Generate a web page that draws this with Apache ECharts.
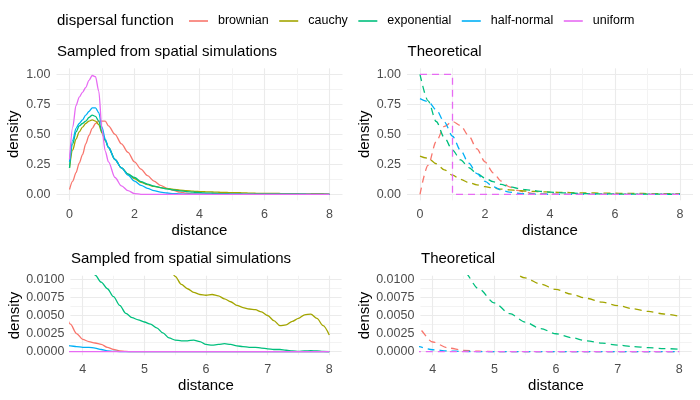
<!DOCTYPE html>
<html><head><meta charset="utf-8">
<script src="https://cdn.jsdelivr.net/npm/echarts@6/dist/echarts.min.js"></script>
<style>html,body{margin:0;padding:0;background:#fff}#c{width:700px;height:400px}</style>
</head><body><div id="c"></div>
<script>
// ---------- data ----------
const seriesNames = ['brownian', 'cauchy', 'exponential', 'half-normal', 'uniform'];
const seriesColors = ['#F8766D', '#A3A500', '#00BF7D', '#00B0F6', '#E76BF3'];
const panelTitles = ['Sampled from spatial simulations', 'Theoretical', 'Sampled from spatial simulations', 'Theoretical'];
const legendTitle = 'dispersal function';

// sampled (kernel density of simulated distances)
const sampX = [0,0.1,0.2,0.3,0.4,0.5,0.6,0.7,0.8,0.9,1.0,1.1,1.2,
  1.4,1.6,1.8,2.0,2.2,2.4,2.6,2.8,3.0,3.2,3.4,3.6,
  3.8,3.9,4.0,4.1,4.2,4.3,4.4,4.5,4.6,4.7,4.8,4.9,5.0,5.1,5.2,5.3,5.4,5.5,5.6,5.7,
  5.8,5.9,6.0,6.1,6.2,6.3,6.4,6.5,6.6,6.7,6.8,6.9,7.0,7.1,7.2,7.3,7.4,7.5,7.6,7.7,7.8,7.9,8.0];
const sampBrownian = [0.04,0.11,0.18,0.26,0.33,0.42,0.49,0.55,0.59,0.61,0.61,0.61,0.57,
  0.50,0.42,0.35,0.27,0.21,0.155,0.11,0.075,0.05,0.032,0.018,0.009,
  0.0038,0.0025,0.0017,0.0014,0.0012,0.0010,0.0006,0.0003,0.0001,0.00004,
  0,0,0,0,0,0,0,0,0,0, 0,0,0,0,0,0,0,0,0,0, 0,0,0,0,0,0,0,0,0,0, 0,0,0];
const sampCauchy = [0.22,0.37,0.46,0.52,0.56,0.59,0.61,0.62,0.61,0.58,0.51,0.45,0.39,
  0.29,0.22,0.165,0.13,0.10,0.08,0.066,0.056,0.048,0.041,0.035,0.030,
  0.026,0.024,0.023,0.022,0.021,0.020,0.019,0.018,0.017,0.016,
  0.0152,0.0146,0.014,0.0135,0.013,0.0125,0.0117,0.0104,0.0093,0.0087,
  0.0082,0.0079,0.0078,0.0079,0.0077,0.0073,0.0069,0.0064,0.0061,0.0059,
  0.0058,0.0055,0.0050,0.0043,0.0036,0.0037,0.0042,0.0046,0.0051,0.0052,
  0.0046,0.0036,0.0023];
const sampExponential = [0.22,0.42,0.52,0.57,0.59,0.61,0.64,0.66,0.65,0.61,0.52,0.45,0.39,
  0.29,0.22,0.17,0.14,0.105,0.085,0.068,0.055,0.045,0.036,0.029,0.023,
  0.018,0.016,0.0142,0.0124,0.0106,0.0096,0.0087,0.0076,0.0064,0.0053,
  0.0047,0.0044,0.0041,0.0038,0.0033,0.0026,0.0019,0.0016,0.0015,0.0015,
  0.0016,0.0014,0.0010,0.0009,0.0010,0.0011,0.0010,0.0008,0.0007,0.0006,
  0.0006,0.0005,0.0004,0.0003,0.0003,0.0002,0.0001,0.00005,0.0001,0.00015,
  0.0001,0.00003,0];
const sampHalfNormal = [0.27,0.45,0.55,0.59,0.62,0.66,0.69,0.72,0.72,0.68,0.56,0.46,0.39,
  0.29,0.22,0.16,0.11,0.075,0.05,0.03,0.018,0.011,0.006,0.003,0.0015,
  0.0008,0.0007,0.0006,0.0006,0.0005,0.0003,0.00012,0.00005,0.00002,0,
  0,0,0,0,0,0,0,0,0,0, 0,0,0,0,0,0,0,0,0,0, 0,0,0,0,0,0,0,0,0,0, 0,0,0];
const sampUniform = [0.29,0.56,0.74,0.81,0.85,0.89,0.95,0.99,0.98,0.86,0.54,0.36,0.27,
  0.14,0.07,0.03,0.006,0,0,0,0,0,0,0,0,
  0,0,0,0,0,0,0,0,0,0, 0,0,0,0,0,0,0,0,0,0, 0,0,0,0,0,0,0,0,0,0,
  0,0,0,0,0,0,0,0,0,0, 0,0,0];

// theoretical densities
const theoX = [0,0.25,0.5,0.75,1,1.25,1.5,1.75,2,2.25,2.5,2.75,3,3.25,3.5,3.75,4,
  4.25,4.5,4.75,5,5.25,5.5,5.75,6,6.25,6.5,6.75,7,7.25,7.5,7.75,8];
const theoBrownian = [0,0.2423,0.4412,0.5661,0.6065,0.5722,0.4870,0.3785,0.2707,0.1791,0.1098,0.0627,0.0333,
  0.01653,0.007655,0.003315,0.00134,0.00051,0.00018,0.00006,0.0000186,0.000005,0.0000013,
  0,0,0,0,0,0,0,0,0,0];
const theoCauchy = [0.3183,0.2996,0.2546,0.2037,0.1592,0.1242,0.0979,0.0784,0.0637,0.0525,0.0439,0.0372,0.0318,
  0.0275,0.0240,0.0211,0.01872,0.01670,0.01498,0.01351,0.01224,0.01114,0.01019,0.00934,0.00860,
  0.00795,0.00736,0.00684,0.00637,0.00594,0.00556,0.00521,0.00490];
const theoExponential = [1,0.7788,0.6065,0.4724,0.3679,0.2865,0.2231,0.1738,0.1353,0.1054,0.0821,0.0639,0.0498,
  0.0388,0.0302,0.0235,0.0183,0.0143,0.0111,0.00865,0.00674,0.00525,0.00409,0.00318,0.00248,
  0.00193,0.00150,0.00117,0.000912,0.000710,0.000553,0.000431,0.000335];
const theoHalfNormal = [0.7979,0.7734,0.7041,0.6023,0.4839,0.3653,0.2590,0.1726,0.1080,0.0635,0.0350,0.01819,0.00886,
  0.004058,0.001745,0.000705,0.000268,0.0000957,0.000032,0.00001,0.000003,
  0,0,0,0,0,0,0,0,0,0,0,0];
const theoUniformX = [0, 1, 1, 8];
const theoUniformY = [1, 1, 0, 0];

// tick labels
const topXTicks = [0, 2, 4, 6, 8];
const topYTicks = [0, 0.25, 0.5, 0.75, 1];
const botXTicks = [4, 5, 6, 7, 8];
const botYTicks = [0, 0.0025, 0.005, 0.0075, 0.01];

// ---------- chart ----------
const FONT = 'Liberation Sans';
const T = 'rgba(255,255,255,0)';
const gridLineColors = [T, T, '#EBEBEB', T, T, T, T, '#F3F3F3', T, T];

function fmt(ticks, digits, tol) {
  return function (v) {
    for (const t of ticks) if (Math.abs(v - t) < tol) return t.toFixed(digits);
    return '';
  };
}
function pairs(xs, ys) { return xs.map((x, i) => [x, ys[i]]); }

const grids = [
  { left: 56.5, top: 68.3, width: 286, height: 132 },
  { left: 407, top: 68.3, width: 286, height: 132 },
  { left: 70.4, top: 275.7, width: 271.2, height: 79.6 },
  { left: 420.4, top: 275.7, width: 271.2, height: 79.6 }
];

const xAxes = [], yAxes = [];
grids.forEach((g, k) => {
  const top = k < 2;
  xAxes.push({
    type: 'value', gridIndex: k,
    min: top ? -0.4 : 3.8, max: top ? 8.4 : 8.2, interval: top ? 0.2 : 0.1,
    axisLine: { show: false }, axisTick: { show: false },
    splitLine: { show: true, lineStyle: { color: gridLineColors, width: 1.1 } },
    axisLabel: { formatter: fmt(top ? topXTicks : botXTicks, 0, 1e-6), color: '#4D4D4D',
      fontSize: 12.5, fontFamily: FONT, margin: 7.5 },
    name: 'distance', nameLocation: 'middle', nameGap: 23,
    nameTextStyle: { fontSize: 15, color: '#000', fontFamily: FONT }
  });
  yAxes.push({
    type: 'value', gridIndex: k,
    min: top ? -0.05 : -0.0005, max: top ? 1.05 : 0.0105, interval: top ? 0.025 : 0.00025,
    axisLine: { show: false }, axisTick: { show: false },
    splitLine: { show: true, lineStyle: { color: gridLineColors, width: 1.1 } },
    axisLabel: { formatter: top ? fmt(topYTicks, 2, 1e-6) : fmt(botYTicks, 4, 1e-8), color: '#4D4D4D',
      fontSize: 12.5, fontFamily: FONT, margin: 6 },
    name: 'density', nameLocation: 'middle', nameGap: top ? 35 : 48.5,
    nameTextStyle: { fontSize: 15, color: '#000', fontFamily: FONT }
  });
});

const sampArrays = [sampBrownian, sampCauchy, sampExponential, sampHalfNormal, sampUniform];
const theoArrays = [theoBrownian, theoCauchy, theoExponential, theoHalfNormal];
const series = [];
[0, 1, 2, 3].forEach(k => {
  const theo = (k % 2) === 1;
  seriesNames.forEach((name, i) => {
    let data, smooth = 0.3;
    if (!theo) data = pairs(sampX, sampArrays[i]);
    else if (i < 4) data = pairs(theoX, theoArrays[i]);
    else { data = pairs(theoUniformX, theoUniformY); smooth = false; }
    series.push({
      type: 'line', name, xAxisIndex: k, yAxisIndex: k, data,
      smooth, smoothMonotone: 'x', showSymbol: false, symbol: 'none',
      color: seriesColors[i],
      lineStyle: { width: 1.3, color: seriesColors[i], type: theo ? [7, 5] : 'solid' },
      emphasis: { disabled: true }, silent: true, clip: true
    });
  });
});

const titleStyle = { fontSize: 15, fontWeight: 'normal', color: '#000', fontFamily: FONT };
const titles = [
  { text: legendTitle, left: 57, top: 13.5, padding: 0, textStyle: titleStyle },
  { text: panelTitles[0], left: 57, top: 44.5, padding: 0, textStyle: titleStyle },
  { text: panelTitles[1], left: 407.5, top: 44.5, padding: 0, textStyle: titleStyle },
  { text: panelTitles[2], left: 71, top: 251, padding: 0, textStyle: titleStyle },
  { text: panelTitles[3], left: 421, top: 251, padding: 0, textStyle: titleStyle }
];

const chart = echarts.init(document.getElementById('c'), null, { renderer: 'canvas' });
chart.setOption({
  animation: false,
  backgroundColor: '#fff',
  title: titles,
  legend: {
    data: seriesNames, left: 189, top: 14.5, padding: 0, orient: 'horizontal',
    icon: 'rect', itemWidth: 19, itemHeight: 1.6, itemGap: 10.5, selectedMode: false,
    textStyle: { fontSize: 12.5, color: '#000', fontFamily: FONT, padding: [0, 0, 0, 5] }
  },
  grid: grids,
  xAxis: xAxes,
  yAxis: yAxes,
  series
});
</script></body></html>
